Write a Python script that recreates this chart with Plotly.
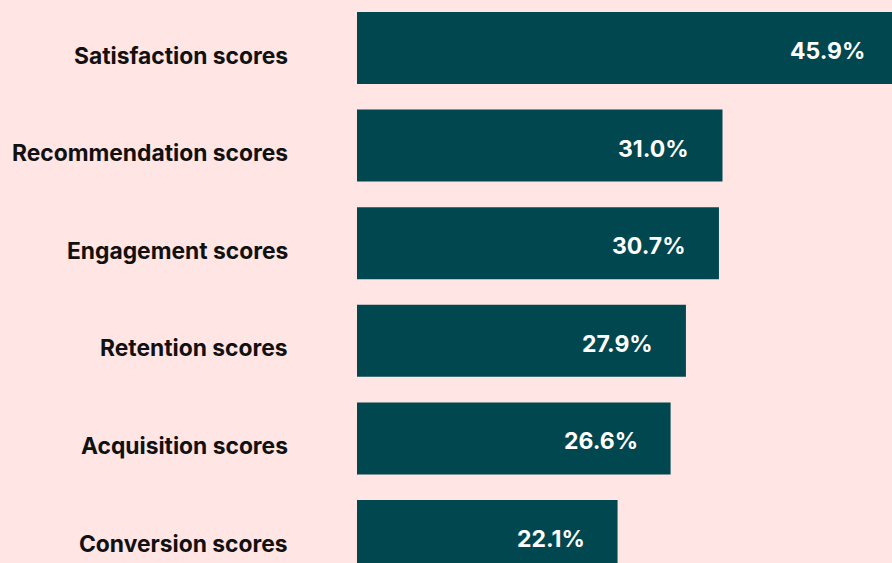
import plotly.graph_objects as go

categories = ["Satisfaction scores", "Recommendation scores", "Engagement scores",
              "Retention scores", "Acquisition scores", "Conversion scores"]
values = [45.9, 31.0, 30.7, 27.9, 26.6, 22.1]
labels = ["45.9%", "31.0%", "30.7%", "27.9%", "26.6%", "22.1%"]

BG = "#FFE5E3"
BAR = "#014750"
FONT = "Inter, Roboto, sans-serif"

ypos = list(range(len(categories)))

fig = go.Figure()
fig.add_trace(go.Bar(
    x=values, y=ypos, orientation="h", marker=dict(color=BAR, line=dict(width=0)),
    width=0.738, hoverinfo="skip",
))

annotations = []
for yi, cat in zip(ypos, categories):
    annotations.append(dict(
        x=0, xref="paper", y=yi, yref="y", text=cat, showarrow=False,
        xanchor="right", yanchor="middle", xshift=-67, yshift=-7,
        font=dict(family=FONT, size=22.8, color="#111111", weight="bold"),
    ))
for yi, v, lab in zip(ypos, values, labels):
    annotations.append(dict(
        x=v, xref="x", y=yi, yref="y", text=lab, showarrow=False,
        xanchor="right", yanchor="middle", xshift=-31, yshift=-3,
        font=dict(family=FONT, size=23, color="white", weight="bold"),
    ))

fig.update_layout(
    width=910, height=600,
    margin=dict(l=357, r=0, t=0, b=0),
    paper_bgcolor=BG, plot_bgcolor=BG,
    showlegend=False,
    xaxis=dict(range=[0, 553 / 11.79], visible=False, fixedrange=True),
    yaxis=dict(range=[5.6557, -0.4918], showticklabels=False,
               showgrid=False, zeroline=False, showline=False, ticks="",
               fixedrange=True),
    annotations=annotations,
)

fig.write_html(
    "out.html",
    config={"displayModeBar": False},
    post_script="document.body.style.margin='0';document.body.style.overflow='hidden';",
)
